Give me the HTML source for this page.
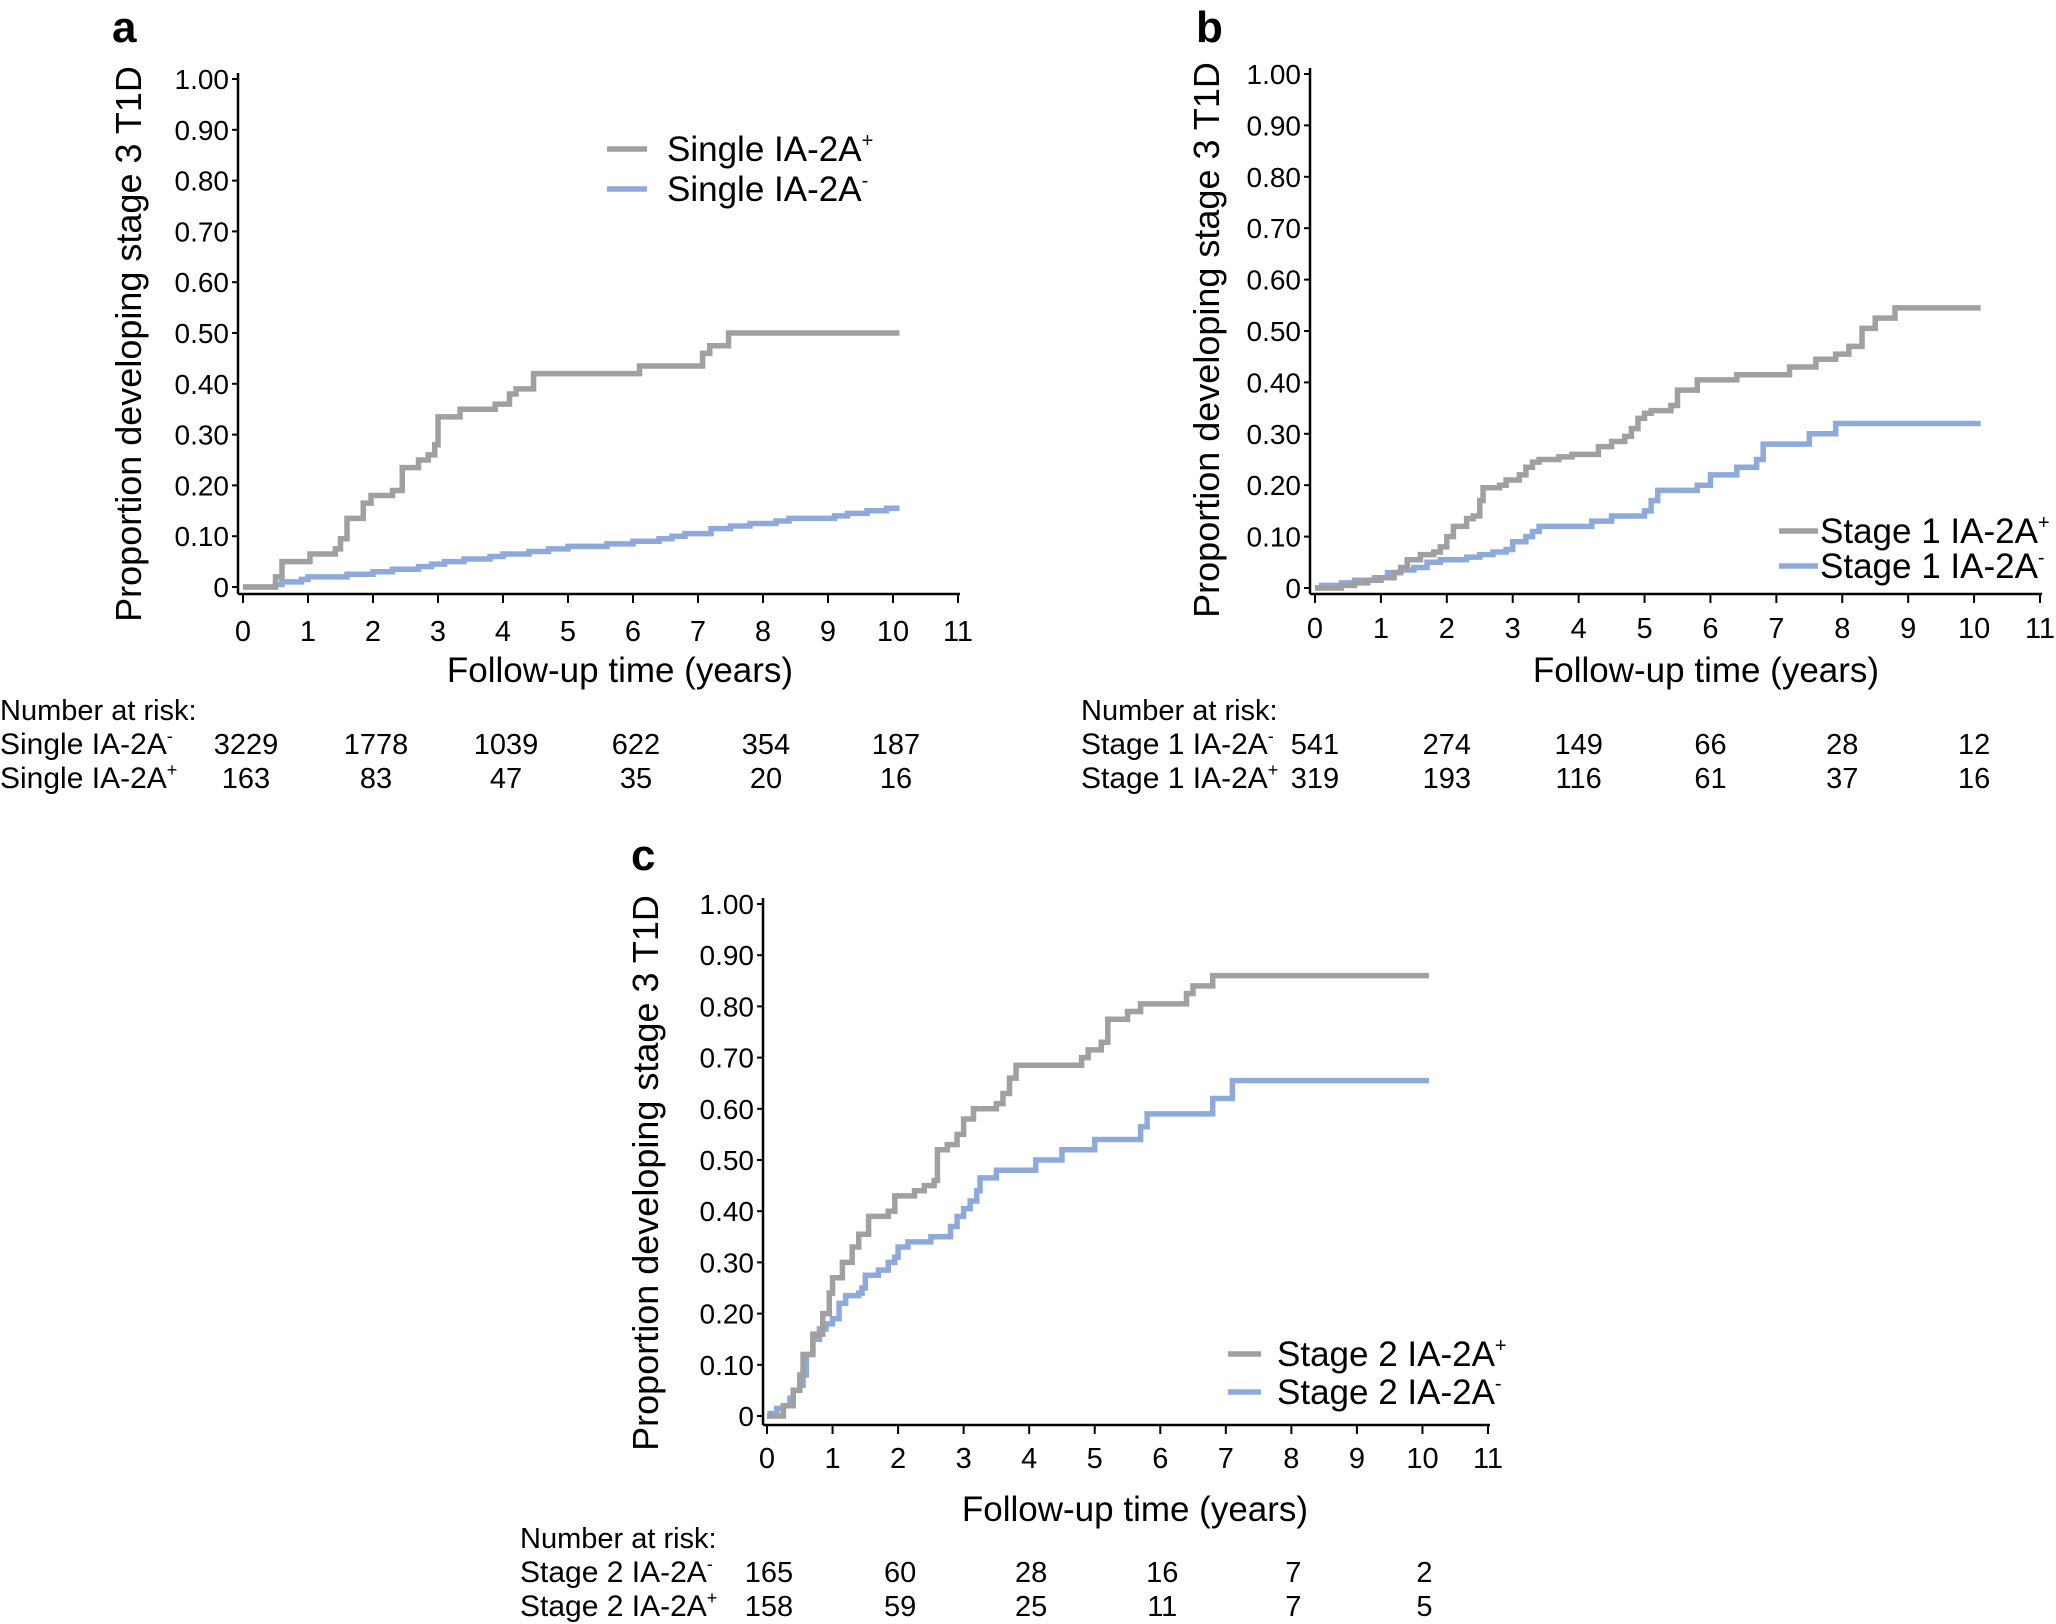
<!DOCTYPE html>
<html><head><meta charset="utf-8"><style>
body{margin:0;background:#fff;}
svg{display:block;font-family:"Liberation Sans",sans-serif;}
</style></head><body>
<svg id="fig" width="2056" height="1624" viewBox="0 0 2056 1624" xmlns="http://www.w3.org/2000/svg"></svg>
<script>
const xTicks=[0,1,2,3,4,5,6,7,8,9,10,11];
const yTicks=[0,0.1,0.2,0.3,0.4,0.5,0.6,0.7,0.8,0.9,1.0];
const yTickLabels=["0","0.10","0.20","0.30","0.40","0.50","0.60","0.70","0.80","0.90","1.00"];
const riskTimes=[0,2,4,6,8,10];
// panel a
const aPosT=[0,0.48,0.5,0.6,1.03,1.42,1.5,1.6,1.85,1.97,2.3,2.45,2.7,2.85,2.95,3.0,3.34,3.88,4.1,4.2,4.47,6.1,7.07,7.18,7.47,10.1];
const aPosV=[0,0,0.02,0.05,0.065,0.075,0.095,0.135,0.165,0.18,0.19,0.235,0.25,0.26,0.28,0.335,0.35,0.36,0.38,0.39,0.42,0.435,0.46,0.475,0.5,0.5];
const aNegT=[0,0.5,0.6,0.9,1.0,1.6,2.0,2.3,2.7,2.9,3.1,3.4,3.8,4.0,4.4,4.7,5.0,5.6,6.0,6.4,6.6,6.8,7.2,7.5,7.8,8.2,8.4,9.1,9.3,9.6,9.9,10.1];
const aNegV=[0,0.005,0.01,0.015,0.02,0.025,0.03,0.035,0.04,0.045,0.05,0.055,0.06,0.065,0.07,0.075,0.08,0.085,0.09,0.095,0.1,0.105,0.115,0.12,0.125,0.13,0.135,0.14,0.145,0.15,0.155,0.155];
const aRiskNeg=["3229","1778","1039","622","354","187"];
const aRiskPos=["163","83","47","35","20","16"];
// panel b
const bPosT=[0,0.4,0.6,0.8,1.0,1.2,1.3,1.4,1.6,1.8,1.9,2.0,2.1,2.3,2.4,2.5,2.55,2.8,2.9,3.1,3.2,3.3,3.4,3.7,3.9,4.3,4.5,4.7,4.8,4.9,5.0,5.1,5.4,5.5,5.8,6.4,7.2,7.6,7.9,8.1,8.3,8.5,8.8,10.1];
const bPosV=[0,0.005,0.01,0.015,0.02,0.03,0.04,0.055,0.065,0.07,0.08,0.1,0.12,0.135,0.14,0.17,0.195,0.2,0.21,0.22,0.235,0.245,0.25,0.255,0.26,0.275,0.285,0.295,0.31,0.33,0.34,0.345,0.355,0.385,0.405,0.415,0.43,0.445,0.455,0.47,0.505,0.525,0.545,0.545];
const bNegT=[0,0.1,0.4,0.6,0.9,1.1,1.3,1.5,1.7,1.9,2.3,2.5,2.7,2.9,3.0,3.2,3.3,3.4,4.2,4.5,5.0,5.1,5.2,5.8,6.0,6.4,6.7,6.8,7.5,7.9,10.1];
const bNegV=[0,0.005,0.01,0.015,0.02,0.03,0.035,0.04,0.05,0.055,0.06,0.065,0.07,0.075,0.09,0.1,0.11,0.12,0.13,0.14,0.15,0.17,0.19,0.2,0.22,0.235,0.25,0.28,0.3,0.32,0.32];
const bRiskNeg=["541","274","149","66","28","12"];
const bRiskPos=["319","193","116","61","37","16"];
// panel c
const cPosT=[0,0.2,0.25,0.4,0.5,0.55,0.7,0.85,0.95,1.0,1.15,1.3,1.4,1.55,1.85,1.95,2.25,2.4,2.55,2.6,2.75,2.9,3.0,3.15,3.5,3.6,3.7,3.8,4.8,4.9,5.1,5.2,5.5,5.7,6.4,6.5,6.8,10.1];
const cPosV=[0,0,0.02,0.05,0.08,0.12,0.16,0.2,0.24,0.27,0.3,0.33,0.355,0.39,0.4,0.43,0.44,0.45,0.46,0.52,0.53,0.55,0.58,0.6,0.61,0.63,0.66,0.685,0.7,0.715,0.73,0.775,0.79,0.805,0.825,0.84,0.86,0.86];
const cNegT=[0,0.05,0.15,0.25,0.35,0.4,0.5,0.55,0.6,0.7,0.8,0.9,1.0,1.1,1.2,1.4,1.45,1.5,1.7,1.85,1.95,2.0,2.15,2.5,2.8,2.9,3.0,3.1,3.2,3.25,3.5,4.1,4.5,5.0,5.7,5.8,6.8,7.1,10.1];
const cNegV=[0,0.005,0.015,0.02,0.035,0.05,0.06,0.08,0.12,0.15,0.17,0.18,0.19,0.22,0.235,0.24,0.25,0.275,0.285,0.3,0.31,0.33,0.34,0.35,0.37,0.39,0.405,0.42,0.44,0.465,0.48,0.5,0.52,0.54,0.565,0.59,0.62,0.655,0.655];
const cRiskNeg=["165","60","28","16","7","2"];
const cRiskPos=["158","59","25","11","7","5"];

const NS="http://www.w3.org/2000/svg";
const svg=document.getElementById('fig');
function mk(tag,attrs,parent,text){const e=document.createElementNS(NS,tag);for(const k in attrs)e.setAttribute(k,attrs[k]);if(text!==undefined)e.textContent=text;(parent||svg).appendChild(e);return e;}

const GRAY="#a0a0a0",BLUE="#8eaadb";
function panel(p){
  const g=mk('g',{});
  
  
  const sx=t=>p.x0+(p.x11-p.x0)*t/11;
  const sy=v=>p.y0-(p.y0-p.y1)*v;
  const lbl=mk('text',{x:p.lx,y:p.ly,'font-size':44,'font-weight':'bold'},g,p.id);
  
  
  const ya=mk('line',{x1:p.ax,y1:p.y1-6,x2:p.ax,y2:p.ab,stroke:'#000','stroke-width':2.5},g);
  
  
  const xa=mk('line',{x1:p.ax,y1:p.ab,x2:sx(11)+2,y2:p.ab,stroke:'#000','stroke-width':2.5},g);
  
  
  yTicks.forEach((v,i)=>{
    mk('line',{x1:p.ax-6,y1:sy(v),x2:p.ax,y2:sy(v),stroke:'#000','stroke-width':2},g);
    const t=mk('text',{x:p.ax-9,y:sy(v)+10,'font-size':28,'text-anchor':'end'},g,yTickLabels[i]);
    
    
  });
  xTicks.forEach(v=>{
    mk('line',{x1:sx(v),y1:p.ab,x2:sx(v),y2:p.ab+9,stroke:'#000','stroke-width':2},g);
    const t=mk('text',{x:sx(v),y:p.xty,'font-size':29,'text-anchor':'middle'},g,String(v));
    
    
  });
  const xt=mk('text',{x:p.xtx,y:p.xtitley,'font-size':35,'text-anchor':'middle'},g,'Follow-up time (years)');
  
  
  const yt=mk('text',{x:0,y:0,'font-size':36,'text-anchor':'middle',transform:`translate(${p.ytx},${p.yty}) rotate(-90)`},g,'Proportion developing stage 3 T1D');
  
  
  function curve(T,V,col,name){
    let d='M'+sx(T[0])+','+sy(V[0]);
    for(let i=1;i<T.length;i++){d+=' H'+sx(T[i])+' V'+sy(V[i]);}
    const c=mk('path',{d:d,fill:'none',stroke:col,'stroke-width':5.5,'stroke-linejoin':'miter'},g);
    
    
  }
  curve(p.negT,p.negV,BLUE,'curve-'+p.id+'-ia2a-negative');
  curve(p.posT,p.posV,GRAY,'curve-'+p.id+'-ia2a-positive');
  [[p.ley1,GRAY,'+'],[p.ley2,BLUE,'-']].forEach(([y,col,s])=>{
    const lg=mk('g',{},g);
    
    
    mk('line',{x1:p.lex1,y1:y,x2:p.lex2,y2:y,stroke:col,'stroke-width':5.5},lg);
    const t=mk('text',{x:p.ltx,y:y+12,'font-size':35},lg,p.legName);
    mk('tspan',{'font-size':20,dy:-14},t,s);
  });
  const rt=mk('g',{},g);
  
  
  mk('text',{x:p.rx,y:p.ry0,'font-size':29},rt,'Number at risk:');
  [[p.ry1,p.rNeg,'-'],[p.ry2,p.rPos,'+']].forEach(([y,arr,s])=>{
    const t=mk('text',{x:p.rx,y:y,'font-size':30},rt,p.riskName);
    mk('tspan',{'font-size':18,dy:-12},t,s);
    arr.forEach((n,i)=>{mk('text',{x:sx(riskTimes[i])+p.rdx,y:y,'font-size':29,'text-anchor':'middle'},rt,n);});
  });
}
panel({id:'a',x0:243,x11:958,y0:587,y1:79,ax:238,ab:594,lx:112,ly:42,xty:641,xtx:620,xtitley:682,ytx:141,yty:344,
  posT:aPosT,posV:aPosV,negT:aNegT,negV:aNegV,lex1:607,lex2:647,ley1:149,ley2:189,ltx:667,legName:'Single IA-2A',
  rx:0,ry0:720,ry1:754,ry2:788,rNeg:aRiskNeg,rPos:aRiskPos,riskName:'Single IA-2A',rdx:3});
panel({id:'b',x0:1315,x11:2040,y0:588,y1:74,ax:1310,ab:594,lx:1196,ly:42,xty:638,xtx:1706,xtitley:682,ytx:1219,yty:340,
  posT:bPosT,posV:bPosV,negT:bNegT,negV:bNegV,lex1:1779,lex2:1818,ley1:531,ley2:566,ltx:1820,legName:'Stage 1 IA-2A',
  rx:1081,ry0:720,ry1:754,ry2:788,rNeg:bRiskNeg,rPos:bRiskPos,riskName:'Stage 1 IA-2A',rdx:0});
panel({id:'c',x0:767,x11:1488,y0:1416,y1:904,ax:763,ab:1425,lx:631,ly:870,xty:1468,xtx:1135,xtitley:1521,ytx:658,yty:1173,
  posT:cPosT,posV:cPosV,negT:cNegT,negV:cNegV,lex1:1228,lex2:1261,ley1:1354,ley2:1392,ltx:1277,legName:'Stage 2 IA-2A',
  rx:520,ry0:1548,ry1:1582,ry2:1616,rNeg:cRiskNeg,rPos:cRiskPos,riskName:'Stage 2 IA-2A',rdx:2});
</script>
</body></html>
